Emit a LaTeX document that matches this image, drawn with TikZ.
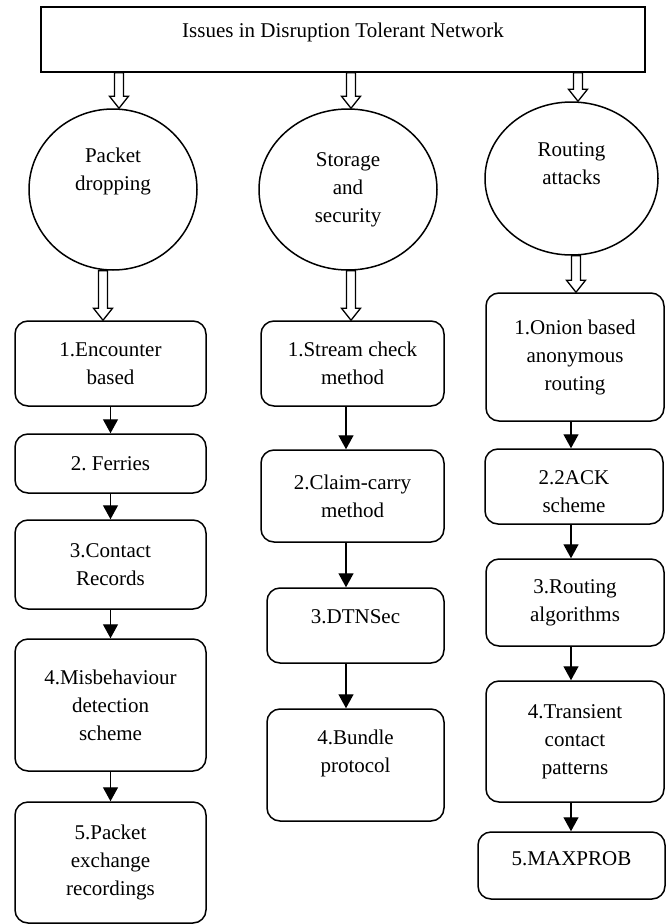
\documentclass[tikz,border=0pt]{standalone}
\usepackage{fontspec}
\setmainfont{Liberation Serif}
\usetikzlibrary{arrows.meta,shapes.geometric,calc}

% open block arrow, x taken from the start point
\newcommand{\hollowarrow}[2]{%
  \draw[hollow] let \p1=(#1), \p2=(#2) in
    (\x1-4.5pt,\y1) -- (\x1-4.5pt,\y2+12pt) -- (\x1-9.5pt,\y2+12pt) -- (\x1,\y2)
    -- (\x1+9.5pt,\y2+12pt) -- (\x1+4.5pt,\y2+12pt) -- (\x1+4.5pt,\y1) -- cycle;}

\begin{document}
\begin{tikzpicture}[x=1pt,y=-1pt,
    txt/.style={align=center,inner sep=0pt,font=\fontsize{21}{28}\selectfont},
    box/.style={txt,draw,line width=1.5pt,rounded corners=13pt},
    issue/.style={txt,ellipse,draw,line width=1.5pt},
    flow/.style={line width=1.4pt,-{Triangle[length=14pt,width=15pt]}},
    hollow/.style={line width=1.3pt}]
        \useasboundingbox (0,0) rectangle (667,924);

        \node[txt,draw,line width=1.5pt,minimum width=604pt,minimum height=65pt,
              label={[txt,yshift=7.5pt]center:Issues in Disruption Tolerant Network}] (top) at (343,39.5) {};

        \node[issue,minimum width=168pt,minimum height=161pt,
              label={[txt,yshift=18pt]center:Packet\\dropping}] (c1) at (113,189.5) {};
        \node[issue,minimum width=178pt,minimum height=161pt] (c2) at (348,189.5) {Storage\\and\\security};
        \node[issue,minimum width=173pt,minimum height=153pt,
              label={[txt,yshift=15pt]center:Routing\\attacks}] (c3) at (571.5,178.5) {};

        \node[box,minimum width=191pt,minimum height=85pt] (e1) at (110.5,363.5) {1.Encounter\\based};
        \node[box,minimum width=191pt,minimum height=59pt] (e2) at (110.5,463.5) {2.\ Ferries};
        \node[box,minimum width=191pt,minimum height=89pt] (e3) at (110.5,564.5) {3.Contact\\Records};
        \node[box,minimum width=191pt,minimum height=132pt] (e4) at (110.5,705) {4.Misbehaviour\\detection\\scheme};
        \node[box,minimum width=191pt,minimum height=121pt] (e5) at (110.5,862.5) {5.Packet\\exchange\\recordings};

        \node[box,minimum width=183pt,minimum height=85pt] (s1) at (352.5,363.5) {1.Stream check\\method};
        \node[box,minimum width=183pt,minimum height=92pt] (s2) at (352.5,496) {2.Claim-carry\\method};
        \node[box,minimum width=177pt,minimum height=75pt,
              label={[txt,yshift=8.5pt]center:3.DTNSec}] (s3) at (355.5,625.5) {};
        \node[box,minimum width=177pt,minimum height=112pt,
              label={[txt,yshift=11.5pt]center:4.Bundle\\protocol}] (s4) at (355.5,765) {};

        \node[box,minimum width=178pt,minimum height=128pt] (r1) at (575,357) {1.Onion based\\anonymous\\routing};
        \node[box,minimum width=178pt,minimum height=75pt,
              label={[txt,yshift=-5.5pt]center:2.2ACK\\scheme}] (r2) at (574,486.5) {};
        \node[box,minimum width=178pt,minimum height=87pt] (r3) at (575,602.5) {3.Routing\\algorithms};
        \node[box,minimum width=178pt,minimum height=121pt] (r4) at (575,741.5) {4.Transient\\contact\\patterns};
        \node[box,minimum width=187pt,minimum height=67pt,
              label={[txt,yshift=6.5pt]center:5.MAXPROB}] (r5) at (571.5,865.5) {};

        \hollowarrow{[xshift=6pt]top.south -| c1.north}{c1.north}
        \hollowarrow{[xshift=3pt]top.south -| c2.north}{c2.north}
        \hollowarrow{[xshift=6.5pt]top.south -| c3.north}{c3.north}
        \hollowarrow{[xshift=-10pt]c1.south}{e1.north}
        \hollowarrow{[xshift=3pt]c2.south}{s1.north}
        \hollowarrow{[xshift=4.5pt]c3.south}{r1.north}

        \draw[flow] (e1.south) -- (e2.north);
        \draw[flow] (e2.south) -- (e3.north);
        \draw[flow] (e3.south) -- (e4.north);
        \draw[flow] (e4.south) -- (e5.north);

        \draw[flow] ([xshift=-6.5pt]s1.south) -- ([xshift=-6.5pt]s1.south |- s2.north);
        \draw[flow] ([xshift=-6.5pt]s2.south) -- ([xshift=-6.5pt]s2.south |- s3.north);
        \draw[flow] ([xshift=-9.5pt]s3.south) -- ([xshift=-9.5pt]s3.south |- s4.north);

        \draw[flow] ([xshift=-4pt]r1.south) -- ([xshift=-4pt]r1.south |- r2.north);
        \draw[flow] ([xshift=-3pt]r2.south) -- ([xshift=-3pt]r2.south |- r3.north);
        \draw[flow] ([xshift=-4pt]r3.south) -- ([xshift=-4pt]r3.south |- r4.north);
        \draw[flow] ([xshift=-4pt]r4.south) -- ([xshift=-4pt]r4.south |- r5.north);
    \end{tikzpicture}
\end{document}
